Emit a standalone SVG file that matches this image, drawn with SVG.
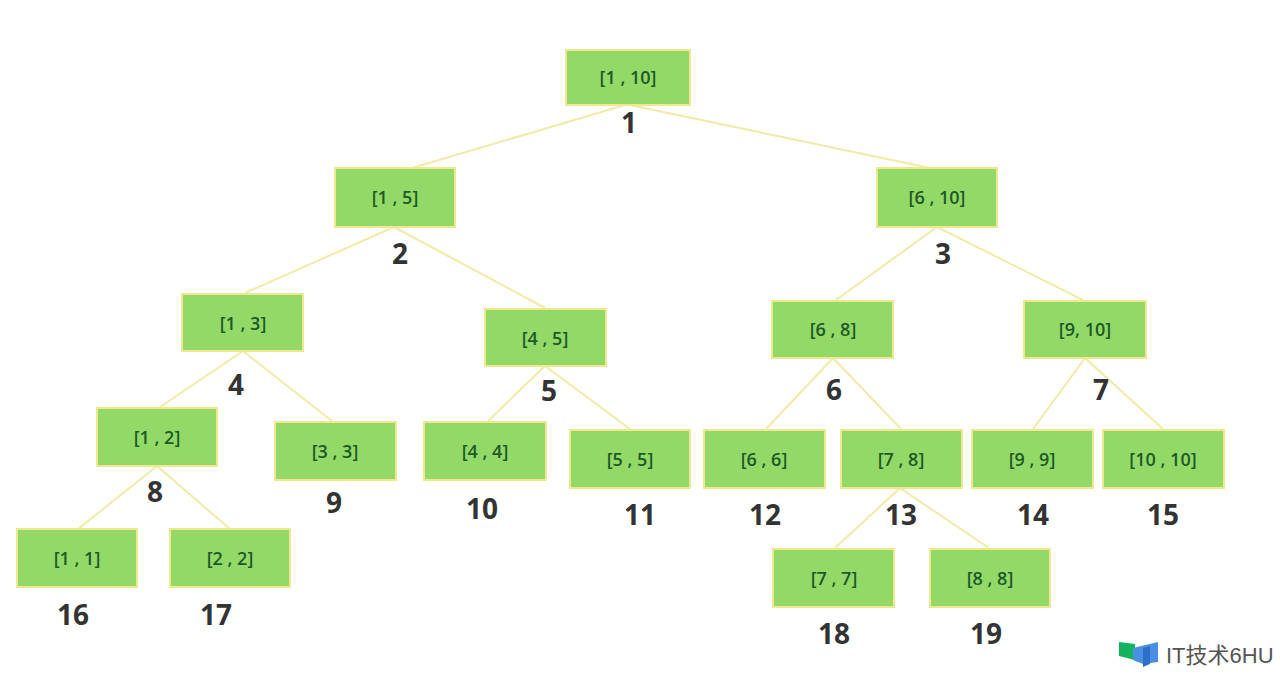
<svg xmlns="http://www.w3.org/2000/svg" width="1280" height="674" viewBox="0 0 1280 674">
<style>
text{font-family:"Open Sans","Liberation Sans",sans-serif}
.b{fill:#93d968;stroke:#f0e88e;stroke-width:2}
.t{font-size:18px;font-weight:600;fill:#1d5a26;text-anchor:middle}
.n{font-size:28px;font-weight:700;fill:#333;text-anchor:middle}
.c line{stroke:#f1eaa8;stroke-width:2}
</style>
<rect width="1280" height="674" fill="#fff"/>
<g id="connectors" class="c">
<line x1="625" y1="105" x2="412" y2="168"/><line x1="630" y1="105" x2="930" y2="168"/>
<line x1="394" y1="227" x2="245" y2="293"/><line x1="394" y1="227" x2="545" y2="308"/>
<line x1="937" y1="227" x2="836" y2="300"/><line x1="937" y1="227" x2="1083" y2="300"/>
<line x1="243" y1="351" x2="160" y2="407"/><line x1="243" y1="351" x2="332" y2="421"/>
<line x1="545" y1="366" x2="488" y2="421"/><line x1="545" y1="366" x2="630" y2="429"/>
<line x1="833" y1="358" x2="766" y2="429"/><line x1="833" y1="358" x2="901" y2="429"/>
<line x1="1085" y1="358" x2="1033" y2="429"/><line x1="1085" y1="358" x2="1163" y2="429"/>
<line x1="157" y1="466" x2="78" y2="529"/><line x1="157" y1="466" x2="230" y2="529"/>
<line x1="900" y1="488" x2="835" y2="548"/><line x1="900" y1="488" x2="989" y2="548"/>
</g>
<g id="n1"><rect class="b" x="566" y="50" width="124" height="55"/><text class="t" x="628" y="84">[1 , 10]</text><text class="n" x="629" y="133">1</text></g>
<g id="n2"><rect class="b" x="335" y="168" width="120" height="59"/><text class="t" x="395" y="204">[1 , 5]</text><text class="n" x="400" y="264">2</text></g>
<g id="n3"><rect class="b" x="877" y="168" width="120" height="59"/><text class="t" x="937" y="204">[6 , 10]</text><text class="n" x="943" y="264">3</text></g>
<g id="n4"><rect class="b" x="182" y="294" width="121" height="57"/><text class="t" x="243" y="330">[1 , 3]</text><text class="n" x="236" y="395">4</text></g>
<g id="n5"><rect class="b" x="485" y="309" width="121" height="57"/><text class="t" x="545" y="345">[4 , 5]</text><text class="n" x="549" y="401">5</text></g>
<g id="n6"><rect class="b" x="772" y="301" width="121" height="57"/><text class="t" x="833" y="336">[6 , 8]</text><text class="n" x="834" y="400">6</text></g>
<g id="n7"><rect class="b" x="1024" y="301" width="122" height="57"/><text class="t" x="1085" y="336">[9, 10]</text><text class="n" x="1101" y="400">7</text></g>
<g id="n8"><rect class="b" x="97" y="408" width="120" height="58"/><text class="t" x="157" y="444">[1 , 2]</text><text class="n" x="155" y="502">8</text></g>
<g id="n9"><rect class="b" x="275" y="422" width="121" height="58"/><text class="t" x="335" y="458">[3 , 3]</text><text class="n" x="334" y="513">9</text></g>
<g id="n10"><rect class="b" x="424" y="422" width="122" height="58"/><text class="t" x="485" y="458">[4 , 4]</text><text class="n" x="482" y="519">10</text></g>
<g id="n11"><rect class="b" x="570" y="430" width="120" height="58"/><text class="t" x="630" y="466">[5 , 5]</text><text class="n" x="640" y="525">11</text></g>
<g id="n12"><rect class="b" x="704" y="430" width="121" height="58"/><text class="t" x="764" y="466">[6 , 6]</text><text class="n" x="765" y="525">12</text></g>
<g id="n13"><rect class="b" x="841" y="430" width="121" height="58"/><text class="t" x="901" y="466">[7 , 8]</text><text class="n" x="901" y="525">13</text></g>
<g id="n14"><rect class="b" x="972" y="430" width="121" height="58"/><text class="t" x="1032" y="466">[9 , 9]</text><text class="n" x="1033" y="525">14</text></g>
<g id="n15"><rect class="b" x="1103" y="430" width="121" height="58"/><text class="t" x="1163" y="466">[10 , 10]</text><text class="n" x="1163" y="525">15</text></g>
<g id="n16"><rect class="b" x="17" y="529" width="120" height="58"/><text class="t" x="77" y="565">[1 , 1]</text><text class="n" x="73" y="625">16</text></g>
<g id="n17"><rect class="b" x="170" y="529" width="120" height="58"/><text class="t" x="230" y="565">[2 , 2]</text><text class="n" x="216" y="625">17</text></g>
<g id="n18"><rect class="b" x="773" y="549" width="121" height="58"/><text class="t" x="834" y="585">[7 , 7]</text><text class="n" x="834" y="644">18</text></g>
<g id="n19"><rect class="b" x="930" y="549" width="120" height="58"/><text class="t" x="990" y="585">[8 , 8]</text><text class="n" x="986" y="644">19</text></g>
<g id="logo">
<path d="M1119 642L1135 644L1135 660L1119 656Z" fill="#12b35c"/>
<path d="M1133 648L1158 642L1158 662L1143 664L1133 660Z" fill="#4a90e2"/>
<path d="M1143 648L1150 646L1150 664L1143 667Z" fill="#2f6fc9"/>
<text x="1166" y="663" font-size="22" fill="#555" style="font-family:'Liberation Sans','Noto Sans CJK SC',sans-serif">IT技术6HU</text>
</g>
</svg>
